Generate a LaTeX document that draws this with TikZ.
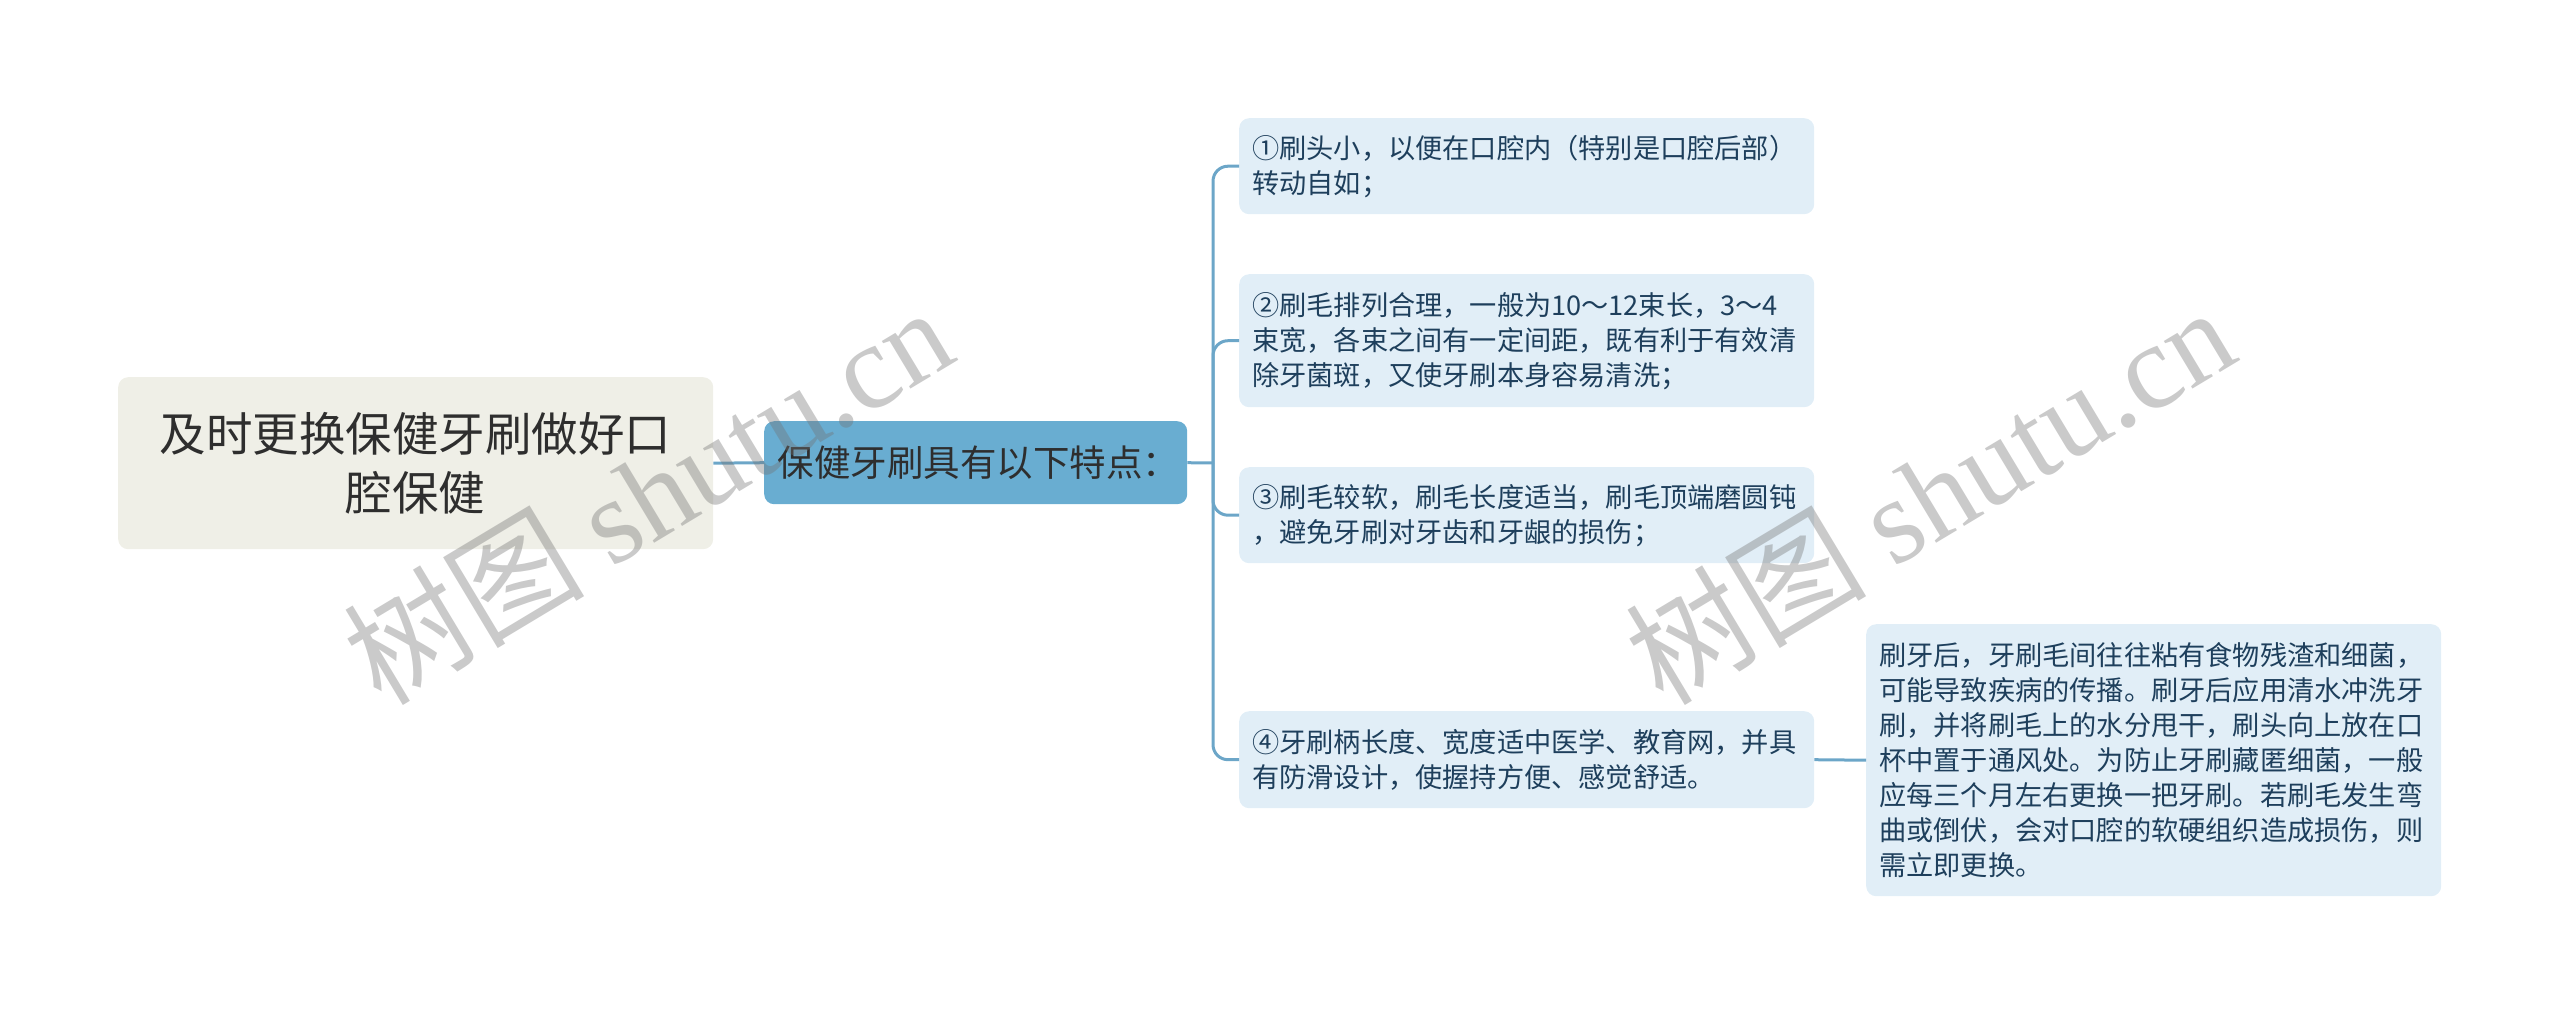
\documentclass[tikz,border=0pt]{standalone}
\usepackage{fontspec}
\setmainfont{Noto Sans CJK SC}
\newfontfamily\wmserif{Liberation Serif}
\definecolor{rootfill}{HTML}{EFEFE7}
\definecolor{mainfill}{HTML}{69ADD1}
\definecolor{childfill}{HTML}{E1EEF7}
\definecolor{linecol}{HTML}{6CA6C8}
\definecolor{childtext}{HTML}{1E3F5C}
\definecolor{roottext}{HTML}{2E2E2E}
\begin{document}
\begin{tikzpicture}[x=1pt,y=-1pt,
  rootbox/.style={fill=rootfill,rounded corners=10pt,anchor=north west,inner sep=0pt,
    minimum width=595pt,minimum height=172pt,align=center,text=roottext,
    font=\fontsize{46.5}{59}\selectfont},
  mainbox/.style={fill=mainfill,rounded corners=10pt,anchor=north west,inner sep=0pt,
    minimum width=423pt,minimum height=83pt,align=center,text=roottext,
    font=\fontsize{36.5}{44}\selectfont},
  childbox/.style={fill=childfill,rounded corners=10pt,anchor=north west,
    inner xsep=13pt,inner ysep=0pt,text width=549pt,align=left,text=childtext,
    font=\fontsize{27.2}{35}\selectfont},
  conn/.style={draw=linecol,line width=3pt},
  wm/.style={text=black!55,opacity=0.38,rotate=31,inner sep=0pt}
]
\useasboundingbox (0,0) rectangle (2560,1015);

\node[rootbox] (root) at (118,377) {及时更换保健牙刷做好口\\腔保健};
\node[mainbox] (main) at (764,421) {\hspace*{6pt}保健牙刷具有以下特点：};

\node[childbox,minimum height=96pt] (c1) at (1239,118)
  {①刷头小，以便在口腔内（特别是口腔后部）\\转动自如；};
\node[childbox,minimum height=133pt] (c2) at (1239,274)
  {②刷毛排列合理，一般为10～12束长，3～4\\束宽，各束之间有一定间距，既有利于有效清\\除牙菌斑，又使牙刷本身容易清洗；};
\node[childbox,minimum height=96pt] (c3) at (1239,467)
  {③刷毛较软，刷毛长度适当，刷毛顶端磨圆钝\\，避免牙刷对牙齿和牙龈的损伤；};
\node[childbox,minimum height=97pt] (c4) at (1239,711)
  {④牙刷柄长度、宽度适中医学、教育网，并具\\有防滑设计，使握持方便、感觉舒适。};
\node[childbox,minimum height=272pt] (c5) at (1866,624)
  {刷牙后，牙刷毛间往往粘有食物残渣和细菌，\\可能导致疾病的传播。刷牙后应用清水冲洗牙\\刷，并将刷毛上的水分甩干，刷头向上放在口\\杯中置于通风处。为防止牙刷藏匿细菌，一般\\应每三个月左右更换一把牙刷。若刷毛发生弯\\曲或倒伏，会对口腔的软硬组织造成损伤，则\\需立即更换。};

\coordinate (fork) at (1213,463);
\draw[conn] (root.east) -- (main.west);
\draw[conn] (main.east) -- (fork);
\draw[conn,rounded corners=15pt] (fork) |- (c1.west);
\draw[conn,rounded corners=15pt] (fork) |- (c2.west);
\draw[conn,rounded corners=15pt] (fork) |- (c3.west);
\draw[conn,rounded corners=15pt] (fork) |- (c4.west);
\draw[conn] (c4.east) -- (c5.west);

\node[wm] (wm1) at (647,494) {\fontsize{121}{121}\selectfont 树图 {\wmserif shutu.cn}};
\node[wm] (wm2) at (1929,494) {\fontsize{121}{121}\selectfont 树图 {\wmserif shutu.cn}};
\end{tikzpicture}
\end{document}
